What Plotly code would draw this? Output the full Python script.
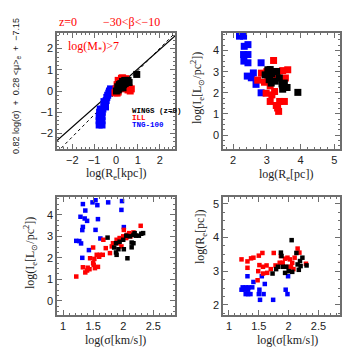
import plotly.graph_objects as go

# ---- data ----
# panel 1: edge-on fundamental plane, x = log(Re[kpc])
p1_blue_x = [-0.77, -0.64, -0.77, -0.64, -0.77, -0.64, -0.75, -0.63, -0.72, -0.6,
             -0.55, -0.5, -0.45, -0.42, -0.38, -0.33, -0.3, -0.25, -0.55, -0.48]
p1_blue_y = [-1.6, -1.6, -1.4, -1.4, -1.2, -1.2, -1.0, -1.0, -0.85, -0.85,
             -0.7, -0.55, -0.45, -0.3, -0.2, -0.1, 0.0, 0.1, -0.5, -0.75]
p1_red_x = [-0.05, 0.0, 0.05, 0.1, 0.15, 0.2, 0.25, 0.3, 0.35, 0.4, 0.45, 0.5, 0.55, 0.6, 0.65, 0.7, 0.1, 0.3, 0.45, 0.05]
p1_red_y = [-0.08, 0.1, 0.3, -0.05, 0.45, 0.2, 0.6, 0.35, 0.55, 0.1, 0.45, 0.25, 0.05, 0.15, 0.0, 0.1, 0.5, 0.62, 0.58, -0.1]
p1_black_x = [0.02, 0.08, 0.1, 0.15, 0.2, 0.22, 0.28, 0.3, 0.35, 0.4, 0.42, 0.48, 0.55, 0.6, 0.12, 0.32, 0.95]
p1_black_y = [0.0, 0.2, 0.05, 0.3, 0.15, 0.35, 0.25, 0.45, 0.3, 0.5, 0.35, 0.45, 0.5, 0.4, 0.1, 0.15, 0.78]
fit_x = [-2.7, 2.7]
fit_solid = (0.91, 0.13)   # slope, intercept
fit_dotted = (1.04, -0.08)

# panel 2: log(Ie) vs log(Re[pc])
p2_blue_x = [2.19, 2.31, 2.44, 2.33, 2.31, 2.44, 2.32, 2.44, 2.83, 2.42, 2.54, 2.6, 2.68, 2.83]
p2_blue_y = [4.68, 4.68, 4.28, 4.2, 3.81, 3.81, 3.5, 3.42, 3.42, 2.79, 2.71, 2.94, 2.4, 2.0]
p2_red_x = [3.2, 2.84, 3.0, 3.47, 3.62, 2.93, 3.1, 3.23, 3.33, 2.98, 3.23, 3.1, 3.38, 3.52, 3.32, 3.35, 3.28, 3.47, 2.73, 3.55, 3.15, 3.03]
p2_red_y = [3.53, 2.93, 3.0, 3.05, 3.09, 2.5, 2.33, 2.67, 2.98, 1.98, 2.06, 1.59, 1.59, 1.59, 1.28, 1.12, 1.4, 2.33, 2.6, 2.7, 1.9, 2.53]
p2_black_x = [3.03, 3.1, 2.95, 3.08, 3.2, 3.07, 3.13, 3.29, 3.37, 3.45, 3.52, 3.47, 3.6, 3.92, 3.15, 3.25]
p2_black_y = [3.09, 3.1, 2.85, 2.85, 3.0, 2.62, 2.46, 3.01, 2.7, 2.42, 2.46, 2.17, 2.25, 2.02, 2.9, 2.55]

# panel 3: log(Ie) vs log(sigma)
p3_blue_x = [1.33, 1.49, 1.54, 1.57, 1.75, 1.98, 1.97, 1.37, 1.58, 1.29, 1.36, 1.40, 1.33, 1.32, 1.54, 1.62, 1.22, 1.27, 1.30, 1.43, 1.32, 2.01]
p3_blue_y = [4.5, 4.58, 4.68, 4.45, 4.58, 4.64, 4.23, 4.2, 3.8, 3.91, 3.83, 3.72, 3.44, 3.29, 3.3, 2.9, 2.79, 2.78, 2.67, 2.36, 2.0, 3.43]
p3_red_x = [1.22, 1.33, 1.37, 1.40, 1.44, 1.51, 1.53, 1.50, 1.52, 1.56, 1.61, 1.66, 1.50, 1.71, 1.45, 1.67, 1.81, 1.83, 1.89, 1.94,
            2.0, 2.06, 2.1, 2.17, 2.01, 2.05, 2.12, 2.29, 1.92, 1.97, 1.78, 1.58, 1.41, 1.60]
p3_red_y = [1.13, 1.56, 1.32, 1.41, 1.47, 1.67, 1.52, 1.75, 1.95, 2.14, 2.14, 2.14, 2.48, 2.45, 1.98, 2.84, 2.53, 2.68, 2.84, 2.92,
            3.0, 3.07, 3.15, 3.18, 3.30, 2.92, 3.0, 3.49, 2.68, 2.53, 2.22, 1.58, 1.54, 2.05]
p3_black_x = [1.74, 1.88, 1.85, 1.92, 1.88, 1.89, 2.01, 2.07, 2.14, 2.14, 2.0, 2.05, 2.17, 2.21, 2.26, 2.30, 1.94, 2.19, 2.11, 2.33, 2.17]
p3_black_y = [2.94, 2.68, 2.48, 2.40, 2.25, 2.14, 2.40, 1.98, 2.49, 2.71, 2.84, 3.03, 3.07, 3.03, 3.03, 3.12, 2.75, 3.15, 3.0, 3.15, 2.68]

# panel 4: log(Re[pc]) vs log(sigma)
p4_blue_x = [1.31, 1.55, 1.99, 1.41, 1.60, 1.23, 1.28, 1.33, 1.39, 1.21, 1.27, 1.32, 1.28, 1.32, 1.36, 1.51, 1.50, 1.58, 1.95, 1.98, 1.52, 1.74]
p4_blue_y = [2.85, 2.85, 2.85, 2.68, 2.62, 2.52, 2.52, 2.52, 2.52, 2.45, 2.45, 2.45, 2.32, 2.32, 2.32, 2.45, 2.32, 2.32, 2.45, 2.32, 2.15, 2.15]
p4_red_x = [1.21, 1.31, 1.37, 1.41, 1.31, 1.50, 1.56, 1.75, 1.51, 1.57, 1.49, 1.63, 1.64, 1.57, 1.48, 1.70, 1.78, 1.85, 1.90, 1.94,
            1.98, 2.02, 2.06, 2.10, 2.15, 2.18, 1.98, 2.04, 2.08, 2.29, 1.87]
p4_red_y = [3.35, 3.29, 3.38, 3.4, 3.1, 3.46, 3.54, 3.54, 3.18, 3.13, 3.0, 3.17, 2.95, 2.93, 2.73, 3.06, 3.17, 3.25, 3.25, 3.37,
            3.4, 3.35, 3.25, 3.4, 3.67, 3.55, 3.13, 3.13, 3.06, 3.22, 3.45]
p4_black_x = [2.05, 1.87, 1.88, 2.13, 2.23, 2.19, 2.15, 2.30, 1.82, 1.90, 1.96, 1.79, 1.94, 1.73, 2.0, 2.17, 2.2, 2.06]
p4_black_y = [3.92, 3.55, 3.45, 3.54, 3.4, 3.3, 3.2, 3.17, 3.13, 3.13, 3.13, 3.06, 2.95, 2.93, 3.0, 3.04, 3.15, 2.98]

W, H = 350, 355
BLUE, RED, BLACK = "#0000ff", "#ff0000", "#000000"
FRAME = "#6e6e6e"


def px_x(p):
    return p / W


def px_y(p):
    return 1 - p / H


def axis(domain, rng, dtick, minor, anchor):
    return dict(
        domain=domain,
        range=rng,
        anchor=anchor,
        tick0=0,
        dtick=dtick,
        ticks="inside",
        ticklen=5,
        tickwidth=1,
        tickcolor=FRAME,
        minor=dict(dtick=minor, ticks="inside", ticklen=2.5, tickwidth=1, tickcolor=FRAME),
        showline=True,
        linecolor=FRAME,
        linewidth=1.5,
        mirror="allticks",
        showgrid=False,
        zeroline=False,
        tickfont=dict(family="Liberation Sans", size=11, color="#222"),
    )


def squares(x, y, color, size, xa, ya):
    return go.Scatter(
        x=x, y=y, xaxis=xa, yaxis=ya, mode="markers", showlegend=False,
        marker=dict(symbol="square", size=size, color=color, line=dict(width=0)),
    )


fig = go.Figure()

# panel 1
for (slope, icpt), dash, lw in [(fit_dotted, "dot", 1.0), (fit_solid, "solid", 1.2)]:
    fig.add_trace(go.Scatter(
        x=fit_x, y=[slope * v + icpt for v in fit_x], xaxis="x", yaxis="y",
        mode="lines", line=dict(color=BLACK, width=lw, dash=dash), showlegend=False,
    ))
fig.add_trace(squares(p1_blue_x, p1_blue_y, BLUE, 7, "x", "y"))
fig.add_trace(squares(p1_red_x, p1_red_y, RED, 7, "x", "y"))
fig.add_trace(squares(p1_black_x, p1_black_y, BLACK, 7, "x", "y"))

# panel 2
fig.add_trace(squares(p2_blue_x, p2_blue_y, BLUE, 7, "x2", "y2"))
fig.add_trace(squares(p2_red_x, p2_red_y, RED, 7, "x2", "y2"))
fig.add_trace(squares(p2_black_x, p2_black_y, BLACK, 7, "x2", "y2"))

# panel 3
fig.add_trace(squares(p3_blue_x, p3_blue_y, BLUE, 4.5, "x3", "y3"))
fig.add_trace(squares(p3_red_x, p3_red_y, RED, 4.5, "x3", "y3"))
fig.add_trace(squares(p3_black_x, p3_black_y, BLACK, 4.5, "x3", "y3"))

# panel 4
fig.add_trace(squares(p4_blue_x, p4_blue_y, BLUE, 4.5, "x4", "y4"))
fig.add_trace(squares(p4_red_x, p4_red_y, RED, 4.5, "x4", "y4"))
fig.add_trace(squares(p4_black_x, p4_black_y, BLACK, 4.5, "x4", "y4"))

left_dom = [px_x(49), px_x(167)]
right_dom = [px_x(215), px_x(332)]
top_dom = [px_y(141), px_y(25)]
bot_dom = [px_y(307), px_y(189)]

fig.update_layout(
    width=W, height=H, autosize=False,
    margin=dict(l=0, r=0, t=0, b=0),
    paper_bgcolor="white", plot_bgcolor="white",
    xaxis=axis(left_dom, [-2.7, 2.7], 1, 0.2, "y"),
    yaxis=axis(top_dom, [-2.73, 2.73], 1, 0.2, "x"),
    xaxis2=axis(right_dom, [1.7, 5.17], 1, 0.2, "y2"),
    yaxis2=axis(top_dom, [-0.66, 4.83], 1, 0.25, "x2"),
    xaxis3=axis(left_dom, [0.9, 2.86], 0.5, 0.1, "y3"),
    yaxis3=axis(bot_dom, [-0.66, 4.83], 1, 0.25, "x3"),
    xaxis4=axis(right_dom, [0.9, 2.86], 0.5, 0.1, "y4"),
    yaxis4=axis(bot_dom, [1.7, 5.2], 1, 0.25, "x4"),
)

serif = dict(family="Liberation Serif", size=12, color="#222")
sans9 = dict(family="Liberation Sans", size=9, color="#222")


def note(x, y, text, font, angle=0, xanchor="center"):
    fig.add_annotation(
        x=px_x(x), y=px_y(y), xref="paper", yref="paper", text=text,
        showarrow=False, font=font, textangle=angle, xanchor=xanchor, yanchor="middle",
    )


# axis titles
note(108, 166, "log(R<sub>e</sub>[kpc])", serif)
note(8, 78, "0.82 log(σ)  +  0.28 &lt;μ&gt;<sub>e</sub>  +  −7.15", sans9, angle=-90)
note(278, 167, "log(R<sub>e</sub>[pc])", serif)
note(189, 80, "log(I<sub>e</sub>[L<sub>⊙</sub>/pc<sup>2</sup>])", serif, angle=-90)
note(107, 332, "log(σ[km/s])", serif)
note(22, 245, "log(I<sub>e</sub>[L<sub>⊙</sub>/pc<sup>2</sup>])", serif, angle=-90)
note(279, 332, "log(σ[km/s])", serif)
note(193, 229, "log(R<sub>e</sub>[pc])", serif, angle=-90)

# labels in and above panel 1
red11 = dict(family="Liberation Serif", size=12, color=RED)
note(60, 14, "z=0", red11)
note(123, 14, "−30&lt;β&lt;−10", red11)
note(85, 39, "log(M<sub>*</sub>)&gt;7", red11)
note(122, 103, "<b>WINGS (z=0)</b>", dict(family="Liberation Mono", size=7.5, color=BLACK), xanchor="left")
note(122, 110, "<b>ILL</b>", dict(family="Liberation Mono", size=7.5, color=RED), xanchor="left")
note(122, 117, "<b>TNG-100</b>", dict(family="Liberation Mono", size=7.5, color=BLUE), xanchor="left")

fig.write_html("out.html")
